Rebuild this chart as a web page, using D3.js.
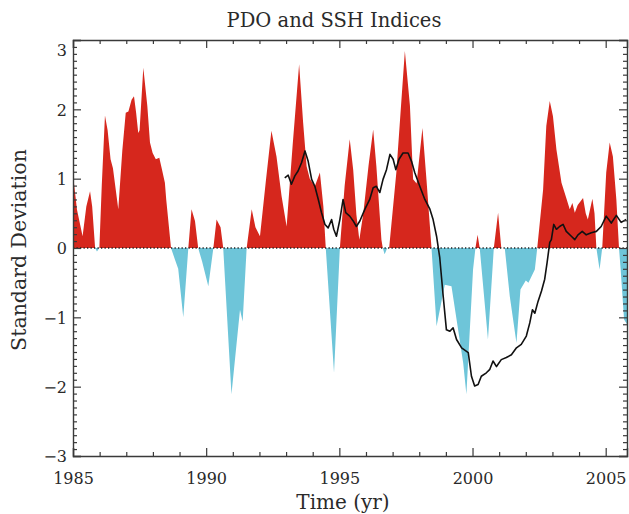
<!DOCTYPE html>
<html><head><meta charset="utf-8">
<script src="https://cdn.jsdelivr.net/npm/d3@7"></script>
<style>body{margin:0;background:#fff}</style>
</head><body>
<svg id="c" width="629" height="514"></svg>
<script>
// ---- data ----
const pdoTime = [1985.0,1985.15,1985.36,1985.5,1985.64,1985.72,1985.83,1985.9,1985.99,1986.08,1986.2,1986.3,1986.41,1986.5,1986.7,1986.85,1986.98,1987.08,1987.2,1987.29,1987.37,1987.45,1987.5,1987.64,1987.79,1987.89,1987.99,1988.11,1988.24,1988.33,1988.45,1988.5,1988.68,1988.83,1988.95,1989.14,1989.33,1989.45,1989.58,1989.7,1989.85,1990.08,1990.27,1990.39,1990.54,1990.64,1990.95,1991.27,1991.37,1991.52,1991.71,1991.85,1992.02,1992.25,1992.45,1992.64,1992.83,1993.02,1993.25,1993.49,1993.64,1993.77,1993.89,1994.08,1994.27,1994.4,1994.49,1994.8,1995.02,1995.2,1995.39,1995.52,1995.64,1995.75,1995.9,1996.1,1996.27,1996.39,1996.58,1996.63,1996.7,1996.8,1996.87,1997.14,1997.46,1997.65,1997.77,1997.9,1998.12,1998.27,1998.46,1998.65,1998.96,1999.21,1999.65,1999.77,2000.02,2000.11,2000.19,2000.27,2000.58,2000.8,2000.96,2001.08,2001.21,2001.4,2001.65,2001.8,2002.0,2002.1,2002.34,2002.43,2002.65,2002.77,2002.9,2003.02,2003.15,2003.34,2003.52,2003.65,2003.75,2003.84,2003.95,2004.15,2004.25,2004.33,2004.5,2004.58,2004.65,2004.77,2004.87,2005.02,2005.15,2005.27,2005.4,2005.5,2005.56,2005.69,2005.8];
const pdoValue = [1.06,0.55,0.17,0.6,0.82,0.6,0,-0.05,0,0.9,1.91,1.7,1.28,1.15,0.56,1.4,1.95,1.97,2.14,2.19,1.95,1.66,1.7,2.6,2.05,1.52,1.37,1.28,1.3,1.15,0.94,0.7,0,-0.17,-0.3,-1.0,0,0.56,0.39,0,-0.2,-0.55,0,0.41,0.3,0,-2.11,-0.89,-1.06,0,0.56,0.3,0.17,1.0,1.69,1.32,0.75,0.31,1.5,2.65,1.81,1.18,1.0,0.89,1.09,0.6,0,-1.8,0,0.9,1.57,1.13,0.48,0.12,0.5,1.2,1.71,1.18,0.12,0,-0.09,0,0,1.09,2.84,2.05,0.99,0.93,1.73,0.99,0,-1.13,-0.53,-0.55,-1.66,-2.11,-0.31,0,0.19,0,-1.32,0,0.51,0,0,-0.7,-1.37,-0.6,-0.47,-0.5,-0.31,0,0.84,1.76,2.12,1.9,1.42,0.94,0.72,0.56,0.65,0.51,0.62,0.72,0.5,0.41,0.71,0.5,0,-0.31,0,1.09,1.52,1.32,0.7,0,-0.3,-1.03,-1.1];
const sshTime = [1992.95,1993.08,1993.2,1993.33,1993.45,1993.58,1993.71,1993.83,1993.96,1994.08,1994.21,1994.33,1994.46,1994.58,1994.71,1994.79,1994.89,1995.02,1995.14,1995.24,1995.39,1995.52,1995.64,1995.77,1995.96,1996.14,1996.27,1996.39,1996.52,1996.64,1996.77,1996.9,1997.02,1997.12,1997.24,1997.39,1997.58,1997.71,1997.83,1998.02,1998.21,1998.4,1998.52,1998.65,1998.77,1998.9,1999.02,1999.15,1999.27,1999.4,1999.59,1999.84,1999.96,2000.08,2000.21,2000.33,2000.52,2000.65,2000.77,2000.9,2001.08,2001.27,2001.46,2001.65,2001.83,2002.02,2002.15,2002.25,2002.34,2002.46,2002.59,2002.71,2002.8,2002.9,2002.96,2003.05,2003.15,2003.27,2003.4,2003.52,2003.71,2003.84,2003.96,2004.12,2004.27,2004.46,2004.65,2004.83,2005.02,2005.21,2005.4,2005.58,2005.77];
const sshValue = [1.01,1.05,0.92,1.04,1.11,1.23,1.4,1.25,0.99,0.89,0.7,0.51,0.34,0.29,0.41,0.27,0.17,0.41,0.7,0.51,0.46,0.39,0.31,0.39,0.56,0.7,0.87,0.89,0.8,0.99,1.13,1.35,1.28,1.13,1.28,1.37,1.37,1.25,1.09,0.89,0.7,0.56,0.41,0.17,-0.14,-0.7,-1.18,-1.2,-1.15,-1.32,-1.44,-1.51,-1.85,-1.99,-1.97,-1.85,-1.8,-1.75,-1.63,-1.71,-1.61,-1.58,-1.54,-1.44,-1.39,-1.27,-1.08,-0.89,-0.94,-0.77,-0.62,-0.45,-0.21,0.08,0.12,0.34,0.27,0.31,0.34,0.24,0.17,0.12,0.19,0.24,0.19,0.22,0.24,0.31,0.46,0.36,0.47,0.37,0.41];
const xMajorTicks = [1985,1990,1995,2000,2005];
const xMinorTicks = [1986,1987,1988,1989,1991,1992,1993,1994,1996,1997,1998,1999,2001,2002,2003,2004];
const yMajorTicks = [-3,-2,-1,0,1,2,3];
const titleText = "PDO and SSH Indices";
const xLabel = "Time (yr)";
const yLabel = "Standard Deviation";

// ---- layout ----
const L=73, R=627, T=40, B=456;
const FONT = "'DejaVu Serif', serif";
const axisColor = "#3a3a3a";
const textColor = "#2a2a2a";
const svg = d3.select("#c");
const x = d3.scaleLinear().domain([1985, 2005.8]).range([L, R]);
const y = d3.scaleLinear().domain([-3, 3]).range([B, T]);
const yMinorTicks = d3.range(-30, 31).map(i => i/10).filter(v => Math.abs(v - Math.round(v)) > 1e-6);

const defs = svg.append("defs");
defs.append("clipPath").attr("id","above").append("rect")
  .attr("x",L).attr("y",T).attr("width",R-L).attr("height",y(0)-T);
defs.append("clipPath").attr("id","below").append("rect")
  .attr("x",L).attr("y",y(0)).attr("width",R-L).attr("height",B-y(0));

const pdo = pdoTime.map((t,i)=>({t, v:pdoValue[i]}));
const area = d3.area().x(d=>x(d.t)).y0(y(0)).y1(d=>y(d.v));
svg.append("path").datum(pdo).attr("d",area).attr("fill","#d6271d").attr("clip-path","url(#above)");
svg.append("path").datum(pdo).attr("d",area).attr("fill","#6ec5d9").attr("clip-path","url(#below)");

// zero line (dotted)
svg.append("line").attr("x1",L).attr("x2",R).attr("y1",y(0)).attr("y2",y(0))
  .attr("stroke","#222").attr("stroke-width",1.3).attr("stroke-dasharray","1.3,2.2");

// SSH line
const ssh = sshTime.map((t,i)=>({t, v:sshValue[i]}));
svg.append("path").datum(ssh)
  .attr("d", d3.line().x(d=>x(d.t)).y(d=>y(d.v)))
  .attr("fill","none").attr("stroke","#111").attr("stroke-width",1.6).attr("stroke-linejoin","round");

// ---- axes ----
function styleAxis(g){
  g.select(".domain").attr("stroke",axisColor).attr("stroke-width",1.4);
  g.selectAll(".tick line").attr("stroke",axisColor).attr("stroke-width",1.2);
  g.selectAll("text").attr("font-family",FONT).attr("fill",textColor);
}
// bottom
const gb = svg.append("g").attr("transform",`translate(0,${B})`)
  .call(d3.axisBottom(x).tickValues(xMajorTicks).tickSize(-8).tickPadding(0).tickFormat(d3.format("d")));
styleAxis(gb);
gb.selectAll("text").attr("font-size",16).attr("y",17).attr("dy","0.71em");
svg.append("g").attr("transform",`translate(0,${B})`)
  .call(d3.axisBottom(x).tickValues(xMinorTicks).tickSize(-4).tickFormat(""))
  .call(g=>{styleAxis(g); g.select(".domain").remove();});
// top
const gt = svg.append("g").attr("transform",`translate(0,${T})`)
  .call(d3.axisTop(x).tickValues(xMajorTicks).tickSize(-8).tickFormat(""));
styleAxis(gt);
svg.append("g").attr("transform",`translate(0,${T})`)
  .call(d3.axisTop(x).tickValues(xMinorTicks).tickSize(-4).tickFormat(""))
  .call(g=>{styleAxis(g); g.select(".domain").remove();});
// left
const gl = svg.append("g").attr("transform",`translate(${L},0)`)
  .call(d3.axisLeft(y).tickValues(yMajorTicks).tickSize(-8).tickPadding(6).tickFormat(d3.format("d")));
styleAxis(gl);
gl.selectAll("text").attr("font-size",16).attr("x",-6)
  .attr("dy", d => d===3 ? "0.95em" : "0.36em");
svg.append("g").attr("transform",`translate(${L},0)`)
  .call(d3.axisLeft(y).tickValues(yMinorTicks).tickSize(-4).tickFormat(""))
  .call(g=>{styleAxis(g); g.select(".domain").remove();});
// right
const gr = svg.append("g").attr("transform",`translate(${R},0)`)
  .call(d3.axisRight(y).tickValues(yMajorTicks).tickSize(-8).tickFormat(""));
styleAxis(gr);
svg.append("g").attr("transform",`translate(${R},0)`)
  .call(d3.axisRight(y).tickValues(yMinorTicks).tickSize(-4).tickFormat(""))
  .call(g=>{styleAxis(g); g.select(".domain").remove();});

// ---- titles ----
svg.append("text").attr("x",334).attr("y",27).attr("text-anchor","middle")
  .attr("font-family",FONT).attr("font-size",19.5).attr("fill",textColor).text(titleText);
svg.append("text").attr("x",343).attr("y",509).attr("text-anchor","middle")
  .attr("font-family",FONT).attr("font-size",20).attr("fill",textColor).text(xLabel);
svg.append("text").attr("transform","translate(26,250) rotate(-90)").attr("text-anchor","middle")
  .attr("font-family",FONT).attr("font-size",20.5).attr("fill",textColor).text(yLabel);
</script>
</body></html>
